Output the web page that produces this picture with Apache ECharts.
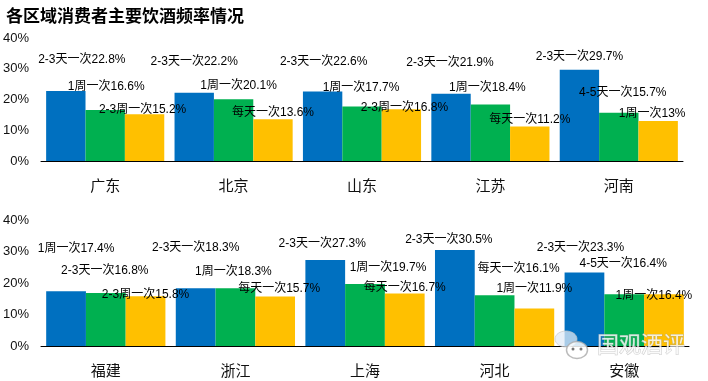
<!DOCTYPE html>
<html lang="zh-CN">
	<head>
		<meta charset="utf-8" />
		<title>各区域消费者主要饮酒频率情况</title>
		<style>
			html, body { margin: 0; padding: 0; background: #fff; }
		</style>
	</head>
	<body>
		<div id="main" style="width: 708px; height: 381px;"></div>

		<script src="https://cdn.jsdelivr.net/npm/echarts@6/dist/echarts.min.js"></script>
		<script type="text/javascript">
			const topCities = ['广东', '北京', '山东', '江苏', '河南'];
			const topBlue = [22.8, 22.2, 22.6, 21.9, 29.7];
			const topGreen = [16.6, 20.1, 17.7, 18.4, 15.7];
			const topYellow = [15.2, 13.6, 16.8, 11.2, 13];
			const topBlueNames = ['2-3天一次', '2-3天一次', '2-3天一次', '2-3天一次', '2-3天一次'];
			const topGreenNames = ['1周一次', '1周一次', '1周一次', '1周一次', '4-5天一次'];
			const topYellowNames = ['2-3周一次', '每天一次', '2-3周一次', '每天一次', '1周一次'];

			const bottomCities = ['福建', '浙江', '上海', '河北', '安徽'];
			const bottomBlue = [17.4, 18.3, 27.3, 30.5, 23.3];
			const bottomGreen = [16.8, 18.3, 19.7, 16.1, 16.4];
			const bottomYellow = [15.8, 15.7, 16.7, 11.9, 16.4];
			const bottomBlueNames = ['1周一次', '2-3天一次', '2-3天一次', '2-3天一次', '2-3天一次'];
			const bottomGreenNames = ['2-3天一次', '1周一次', '1周一次', '每天一次', '4-5天一次'];
			const bottomYellowNames = ['2-3周一次', '每天一次', '每天一次', '1周一次', '1周一次'];

			const valueTicks = [0, 10, 20, 30, 40];

			// 标签是手工摆放的，这里记录相对柱顶的偏移 [dx, dy]
			const topOffsets = [
				[[16, -33], [1, -25], [-2, -7]],
				[[0, -33], [5, -16], [0, -8]],
				[[1, -32], [-1, -21], [3, -4]],
				[[-1, -33], [-3, -19], [0, -9]],
				[[0, -15], [4, -22], [-6, -9]],
			];
			const bottomOffsets = [
				[[10, -45], [-1, -24], [0, -4]],
				[[0, -43], [-2, -19], [4, -10]],
				[[-3, -18], [23, -18], [0, -8]],
				[[-6, -12], [24, -29], [0, -22]],
				[[-4, -27], [-1, -33], [-10, -1]],
			];

			const font = '"Liberation Sans", "Noto Sans CJK SC", sans-serif';
			const colors = ['#0070C0', '#00B050', '#FFC000'];

			function makeSeries(values, names, offsets, barIndex, axisIndex) {
				return {
					type: 'bar',
					xAxisIndex: axisIndex,
					yAxisIndex: axisIndex,
					barGap: 0,
					barCategoryGap: '8%',
					itemStyle: { color: colors[barIndex] },
					data: values.map((v, i) => ({
						value: v,
						label: {
							show: true,
							position: 'top',
							distance: 0,
							offset: [offsets[i][barIndex][0], offsets[i][barIndex][1] + 9],
							formatter: names[i] + v + '%',
							fontFamily: font,
							fontSize: 12,
							lineHeight: 14,
							color: '#000',
						},
					})),
					z: 2 + barIndex,
				};
			}

			function makeX(cities, gridIndex) {
				return {
					type: 'category',
					gridIndex: gridIndex,
					data: cities,
					axisLine: { lineStyle: { color: '#000', width: 1 } },
					axisTick: { show: false },
					axisLabel: { margin: 18, fontFamily: font, fontSize: 15, color: '#111' },
				};
			}

			function makeY(gridIndex) {
				return {
					type: 'value',
					gridIndex: gridIndex,
					min: valueTicks[0],
					max: valueTicks[valueTicks.length - 1],
					interval: 10,
					splitLine: { show: false },
					axisLine: { show: false },
					axisTick: { show: false },
					axisLabel: {
						margin: 12,
						formatter: '{value}%',
						fontFamily: font,
						fontSize: 13,
						color: '#111',
					},
				};
			}

			const myChart = echarts.init(document.getElementById('main'), null, { renderer: 'canvas' });

			myChart.setOption({
				animation: false,
				backgroundColor: '#fff',
				title: {
					text: '各区域消费者主要饮酒频率情况',
					left: 6,
					top: 7,
					padding: 0,
					textStyle: {
						fontFamily: '"Noto Sans CJK SC", sans-serif',
						fontSize: 17,
						fontWeight: 'bold',
						color: '#000',
					},
				},
				grid: [
					{ left: 41, top: 38, width: 642, height: 123, outerBoundsMode: 'none' },
					{ left: 41, top: 220, width: 648, height: 126, outerBoundsMode: 'none' },
				],
				xAxis: [makeX(topCities, 0), makeX(bottomCities, 1)],
				yAxis: [makeY(0), makeY(1)],
				series: [
					makeSeries(topBlue, topBlueNames, topOffsets, 0, 0),
					makeSeries(topGreen, topGreenNames, topOffsets, 1, 0),
					makeSeries(topYellow, topYellowNames, topOffsets, 2, 0),
					makeSeries(bottomBlue, bottomBlueNames, bottomOffsets, 0, 1),
					makeSeries(bottomGreen, bottomGreenNames, bottomOffsets, 1, 1),
					makeSeries(bottomYellow, bottomYellowNames, bottomOffsets, 2, 1),
				],
				// 右下角水印
				graphic: [
					{
						type: 'ellipse',
						z: 20,
						shape: { cx: 566, cy: 339, rx: 11, ry: 8 },
						style: { fill: 'rgba(225,235,245,0.75)', stroke: 'rgba(200,200,200,0.7)', lineWidth: 1 },
					},
					{
						type: 'ellipse',
						z: 21,
						shape: { cx: 577, cy: 350, rx: 10.5, ry: 8.5 },
						style: { fill: 'rgba(255,255,255,0.85)', stroke: 'rgba(170,170,170,0.8)', lineWidth: 1.5 },
					},
					{
						type: 'circle',
						z: 22,
						shape: { cx: 573, cy: 349, r: 1.5 },
						style: { fill: '#777' },
					},
					{
						type: 'circle',
						z: 22,
						shape: { cx: 581, cy: 349, r: 1.5 },
						style: { fill: '#777' },
					},
					{
						type: 'text',
						z: 22,
						x: 597,
						y: 333,
						style: {
							text: '国观酒评',
							fontFamily: '"Noto Sans CJK SC", sans-serif',
							fontSize: 22,
							fill: 'rgba(255,255,255,0.8)',
							stroke: 'rgba(160,160,160,0.55)',
							lineWidth: 1,
						},
					},
				],
			});
		</script>
	</body>
</html>
